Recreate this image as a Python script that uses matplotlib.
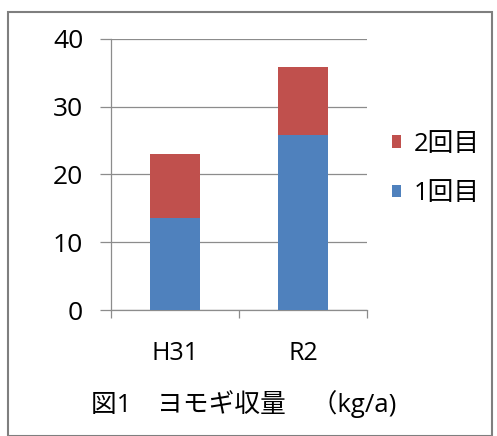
import matplotlib
matplotlib.use("Agg")
import matplotlib.pyplot as plt
from matplotlib.patches import Rectangle

plt.rcParams['font.family'] = ['Open Sans', 'Noto Sans CJK JP']

categories = ["H31", "R2"]
first_cut = [13.6, 25.8]    # 1回目
second_cut = [9.4, 10.1]    # 2回目
yticks = [0, 10, 20, 30, 40]
title_text = "図1　ヨモギ収量　（kg/a)"

blue = "#4F81BD"
red = "#C0504D"
grid_gray = "#8C8C8C"

fig = plt.figure(figsize=(4.97, 4.36), dpi=100)
W, H = 497, 436

# outer chart frame
fig.patches.append(Rectangle((8 / W, 0), (492 - 8) / W, (436 - 12) / H,
                             transform=fig.transFigure, fill=False,
                             edgecolor="#7F7F7F", linewidth=1.5))

ax = fig.add_axes([111 / W, (H - 310) / H, 256 / W, 271 / H])
x = list(range(len(categories)))
b1 = ax.bar(x, first_cut, width=0.39, color=blue, zorder=3, label="1回目")
b2 = ax.bar(x, second_cut, width=0.39, bottom=first_cut, color=red,
            zorder=3, label="2回目")

ax.set_xlim(-0.5, 1.5)
ax.set_ylim(0, 40)
ax.set_yticks(yticks)
ax.set_yticklabels([str(v) for v in yticks], fontsize=19)
ax.set_xticks(x)
ax.set_xticklabels(categories, fontsize=18)
ax.set_xticks([-0.5, 0.5, 1.5], minor=True)
ax.tick_params(axis='x', which='major', length=0, pad=22)
ax.tick_params(axis='x', which='minor', length=6, width=0.9, color=grid_gray)
ax.tick_params(axis='y', which='major', length=8, width=0.9, color=grid_gray,
               pad=12)

ax.yaxis.grid(True, color=grid_gray, linewidth=0.9, zorder=0)
ax.set_axisbelow(True)
for s in ("top", "right"):
    ax.spines[s].set_visible(False)
for s in ("left", "bottom"):
    ax.spines[s].set_color(grid_gray)
    ax.spines[s].set_linewidth(0.9)

leg = fig.legend(handles=[b2, b1], labels=["2回目", "1回目"],
                 loc="center left", bbox_to_anchor=(392 / W, 1 - 169 / H),
                 frameon=False, fontsize=18.5, handlelength=0.36,
                 handleheight=0.36, handletextpad=0.5, labelspacing=0.95,
                 borderpad=0, borderaxespad=0)

fig.text(91 / W, 1 - 404 / H, title_text, fontsize=18.5, ha="left",
         va="center")

fig.savefig("out.png", dpi=100)
